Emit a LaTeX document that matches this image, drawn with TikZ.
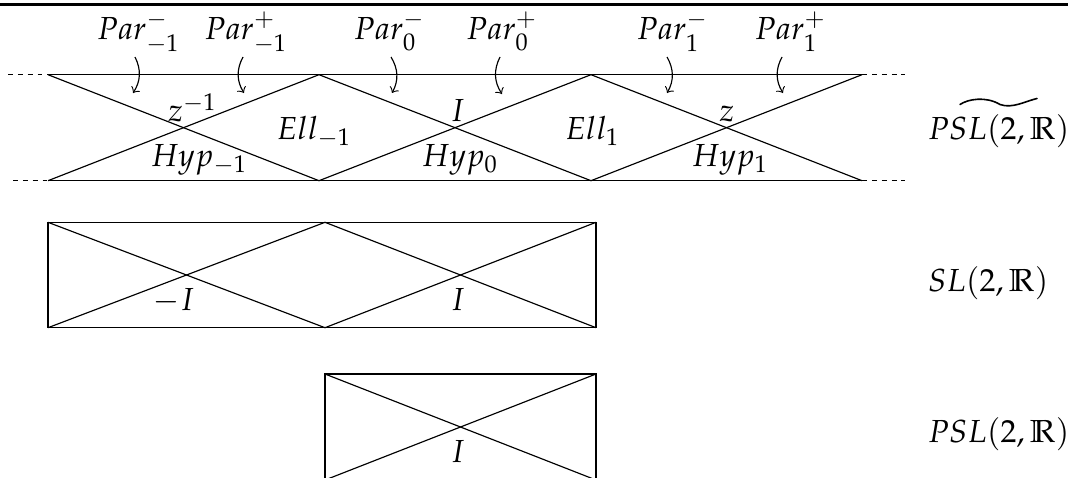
\documentclass[tikz,border=0pt]{standalone}
\usepackage{mathpazo}
\begin{document}
\begin{tikzpicture}[x=0.345pt,y=-0.345pt,
  every node/.style={font=\fontsize{11}{13}\selectfont},
  lab/.style={anchor=base,inner sep=0pt,outer sep=0pt},
  grp/.style={anchor=base west,inner sep=0pt,outer sep=0pt},
  ext/.style={dash pattern=on 1.7pt off 1.7pt},
  parr/.style={->,line width=0.4pt},
  wave/.style={line width=0.55pt,line cap=round},
  rule/.style={line width=0.8pt}]
\useasboundingbox (0,0) rectangle (1068,477);
% header rule
\coordinate (r1) at (0,4.5);
\coordinate (r2) at (1068,4.5);
\draw[rule] (r1) -- (r2);
% ---------- top strip (universal cover) ----------
\coordinate (t0) at (48,74.7);   \coordinate (b0) at (48,180.7);
\coordinate (t1) at (319,74.7);  \coordinate (b1) at (319,180.7);
\coordinate (t2) at (591,74.7);  \coordinate (b2) at (591,180.7);
\coordinate (t3) at (862,74.7);  \coordinate (b3) at (862,180.7);
\coordinate (tl) at (8,74.7);    \coordinate (bl) at (13,180.7);
\coordinate (tr) at (905,74.7);  \coordinate (br) at (905,180.7);
\draw (t0) -- (t3);
\draw (b0) -- (b3);
\draw (t0) -- (b1) -- (t2) -- (b3);
\draw (b0) -- (t1) -- (b2) -- (t3);
\draw[ext] (tl) -- (t0);
\draw[ext] (bl) -- (b0);
\draw[ext] (t3) -- (tr);
\draw[ext] (b3) -- (br);
% parabolic labels
\node[lab] (pm1m) at (138.5,40) {$Par^-_{-1}$};
\node[lab] (pm1p) at (246,40) {$Par^+_{-1}$};
\node[lab] (p0m) at (389.5,40) {$Par^-_{0}$};
\node[lab] (p0p) at (502,40) {$Par^+_{0}$};
\node[lab] (p1m) at (672.5,40) {$Par^-_{1}$};
\node[lab] (p1p) at (790.5,40) {$Par^+_{1}$};
\coordinate (a1s) at (135,57);  \coordinate (a1e) at (133,93);
\coordinate (a2s) at (243,57);  \coordinate (a2e) at (244,93);
\coordinate (a3s) at (391,57);  \coordinate (a3e) at (392,93);
\coordinate (a4s) at (500,57);  \coordinate (a4e) at (502,94);
\coordinate (a5s) at (667,57);  \coordinate (a5e) at (667,93);
\coordinate (a6s) at (782,57);  \coordinate (a6e) at (783,93);
\draw[parr] (a1s) to[bend left=30] (a1e);
\draw[parr] (a2s) to[bend right=30] (a2e);
\draw[parr] (a3s) to[bend left=30] (a3e);
\draw[parr] (a4s) to[bend right=30] (a4e);
\draw[parr] (a5s) to[bend left=30] (a5e);
\draw[parr] (a6s) to[bend right=30] (a6e);
% region labels
\node[lab] (zinv) at (192.5,121.7) {$z^{-1}$};
\node[lab] (ellm1) at (314,140) {$Ell_{-1}$};
\node[lab] (hypm1) at (199,166.7) {$Hyp_{-1}$};
\node[lab] (itop) at (457.5,121.7) {$I$};
\node[lab] (ell1) at (592.5,140) {$Ell_{1}$};
\node[lab] (hyp0) at (460,166.7) {$Hyp_{0}$};
\node[lab] (ztop) at (727,121.7) {$z$};
\node[lab] (hyp1) at (730,166.7) {$Hyp_{1}$};
\node[grp] (gcov) at (928,139) {$PSL(2,\mathbb{R})$};
\coordinate (w0) at (960,104.5);
\coordinate (w1) at (1000,104.5);
\coordinate (w2) at (1037,98.5);
\draw[wave] (w0) .. controls (968,99) and (986,96) .. (w1)
  .. controls (1012,109) and (1026,101) .. (w2);
% ---------- middle strip SL(2,R) ----------
\coordinate (m0t) at (48,222.3);  \coordinate (m0b) at (48,327.7);
\coordinate (m1t) at (325,222.3); \coordinate (m1b) at (325,327.7);
\coordinate (m2t) at (596,222.3); \coordinate (m2b) at (596,327.7);
\draw (m0t) rectangle (m2b);
\draw (m0t) -- (m1b) -- (m2t);
\draw (m0b) -- (m1t) -- (m2b);
\node[lab] (mI) at (174,310) {$-I$};
\node[lab] (pI) at (457.7,310) {$I$};
\node[grp] (gsl) at (928,291.7) {$SL(2,\mathbb{R})$};
% ---------- bottom strip PSL(2,R) ----------
\coordinate (q0t) at (325,374); \coordinate (q0b) at (325,480);
\coordinate (q1t) at (596,374); \coordinate (q1b) at (596,480);
\draw (q0b) -- (q0t) -- (q1t) -- (q1b);
\draw (q0t) -- (q1b);
\draw (q0b) -- (q1t);
\node[lab] (bI) at (457.7,462.7) {$I$};
\node[grp] (gpsl) at (928,442.7) {$PSL(2,\mathbb{R})$};
\end{tikzpicture}
\end{document}
